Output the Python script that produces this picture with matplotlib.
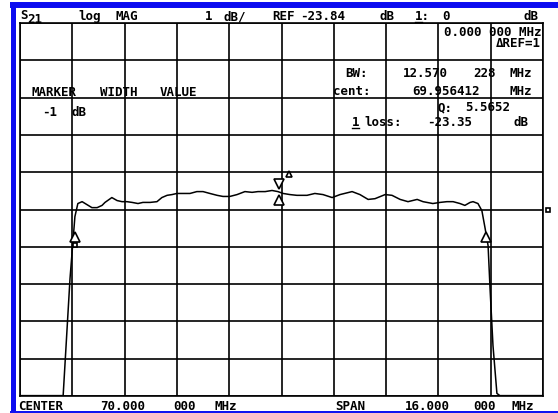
import matplotlib
matplotlib.use("Agg")
import matplotlib.pyplot as plt
from matplotlib.transforms import offset_copy
from matplotlib.lines import Line2D

W, H = 558, 414

# S21 trace
freq_mhz = [62.00, 63.32, 63.53, 63.68, 63.77, 63.90, 64.05, 64.20, 64.36, 64.51,
            64.60, 64.81, 64.97, 65.12, 65.27, 65.43, 65.61, 65.76, 65.98, 66.19,
            66.34, 66.50, 66.65, 66.80, 66.96, 67.20, 67.41, 67.60, 67.81, 68.03,
            68.21, 68.42, 68.64, 68.88, 69.10, 69.28, 69.50, 69.71, 69.89, 70.05,
            70.26, 70.47, 70.66, 70.78, 71.02, 71.27, 71.55, 71.79, 72.16, 72.40,
            72.65, 72.86, 73.17, 73.38, 73.63, 73.87, 74.15, 74.33, 74.45, 74.63,
            74.85, 75.06, 75.25, 75.46, 75.61, 75.77, 75.86, 76.01, 76.13, 76.23,
            76.32, 76.38, 76.47, 76.59, 76.68, 78.00]
s21_db = [-28.83, -28.83, -25.69, -24.03, -23.68, -23.63, -23.71, -23.79, -23.79, -23.73,
          -23.65, -23.52, -23.60, -23.63, -23.63, -23.65, -23.68, -23.65, -23.65, -23.63,
          -23.52, -23.46, -23.44, -23.41, -23.41, -23.41, -23.36, -23.36, -23.41, -23.46,
          -23.49, -23.49, -23.44, -23.36, -23.38, -23.36, -23.36, -23.33, -23.36, -23.41,
          -23.44, -23.46, -23.46, -23.46, -23.41, -23.44, -23.52, -23.44, -23.36, -23.44,
          -23.57, -23.55, -23.44, -23.46, -23.57, -23.63, -23.57, -23.63, -23.65, -23.68,
          -23.65, -23.63, -23.63, -23.68, -23.73, -23.65, -23.63, -23.68, -23.87, -24.35,
          -24.81, -25.96, -27.49, -28.77, -28.83, -28.83]

# instrument settings / marker readouts
center_mhz = 70.0
span_mhz = 16.0
ref_db = -23.84
scale_db = 1.0
bw_mhz = 12.570228
cent_mhz = 69.956412
loss_db = -23.35
width_db = -1.0

FS = 9
MONO = "DejaVu Sans Mono"
BLUE = "#0c0cf0"

fig = plt.figure(figsize=(W / 100, H / 100), dpi=100)
fig.patch.set_facecolor("white")
ax = fig.add_axes([20 / W, 1 - 397 / H, 523 / W, 373 / H])

ax.set_xlim(center_mhz - span_mhz / 2, center_mhz + span_mhz / 2)
ax.set_ylim(ref_db - 5 * scale_db, ref_db + 5 * scale_db)
ax.set_xticks([center_mhz - span_mhz / 2 + i * span_mhz / 10 for i in range(11)])
ax.set_yticks([ref_db + (i - 5) * scale_db for i in range(11)])
ax.tick_params(length=0, labelbottom=False, labelleft=False)
ax.grid(True, color="black", lw=1.2)
for sp in ax.spines.values():
    sp.set_linewidth(1.2)

ax.plot(freq_mhz, s21_db, color="black", lw=1.1, zorder=3)


def shifted(dx, dy):
    return offset_copy(ax.transData, fig=fig, x=dx, y=dy, units="dots")


# bandwidth markers at -1 dB
f_lo = cent_mhz - bw_mhz / 2
f_hi = cent_mhz + bw_mhz / 2
lvl = loss_db + width_db
mk = dict(color="black", mfc="white", mew=1.2, zorder=5, clip_on=False)
for f in (f_lo, f_hi):
    ax.plot([f], [lvl], marker="^", ms=7.5, transform=shifted(0, -8), **mk)
ax.plot([f_lo], [lvl], marker="s", ms=3.5, transform=shifted(0, -16), **mk)
# marker 1 at the centre
ax.plot([cent_mhz], [loss_db], marker="v", ms=7, transform=shifted(-1, 7), **mk)
ax.plot([cent_mhz], [loss_db], marker="^", ms=7, transform=shifted(-1, -9), **mk)
ax.plot([cent_mhz], [loss_db], marker="^", ms=4, transform=shifted(9, 17), **mk)
# reference position indicator
ax.plot([center_mhz + span_mhz / 2], [ref_db], marker="s", ms=3.5,
        transform=shifted(5, 0), **mk)


def put(x, y, s, ha="left", **kw):
    fig.text(x / W, 1 - y / H, s, fontsize=FS, family=MONO, weight="bold",
             va="baseline", ha=ha, color="black", **kw)


def underline(x0, x1, y):
    fig.add_artist(Line2D([x0 / W, x1 / W], [1 - y / H, 1 - y / H], color="black",
                          lw=1.0, transform=fig.transFigure))


# header
put(20, 19, "S")
put(27, 23, "21")
put(78, 20, "log")
put(115, 20, "MAG")
put(205, 20, "1")
put(223, 20, "dB/")
put(272, 20, "REF")
put(300, 20, "-23.84")
put(380, 20, "dB")
put(415, 20, "1:")
underline(415, 422, 22.5)
put(442, 20, "0")
put(523, 20, "dB")

# marker readouts
put(541, 47, "0.000 000 MHz\n\u0394REF=1", ha="right", multialignment="right",
    linespacing=0.8)
put(345, 77, "BW:")
put(403, 77, "12.570")
put(473, 77, "228")
put(510, 77, "MHz")
put(333, 95, "cent:")
put(412, 95, "69.956412")
put(510, 95, "MHz")
put(438, 111, "Q:")
put(465, 111, "5.5652")
put(352, 126, "1")
underline(352, 359, 128.5)
put(364, 126, "loss:")
put(427, 126, "-23.35")
put(513, 126, "dB")

put(32, 96, "MARKER")
put(100, 96, "WIDTH")
put(160, 96, "VALUE")
put(42, 116, "-1")
put(72, 116, "dB")

# footer
put(18, 410, "CENTER")
put(100, 410, "70.000")
put(173, 410, "000")
put(215, 410, "MHz")
put(335, 410, "SPAN")
put(405, 410, "16.000")
put(473, 410, "000")
put(512, 410, "MHz")

# blue screen frame
fig.add_artist(Line2D([12.5 / W, 12.5 / W], [1 - 6 / H, 1 - 412 / H], color=BLUE, lw=3.6,
                      transform=fig.transFigure, solid_capstyle="butt"))
fig.add_artist(Line2D([10 / W, 1.0], [1 - 6 / H, 1 - 6 / H], color=BLUE, lw=4.3,
                      transform=fig.transFigure, solid_capstyle="butt"))
fig.add_artist(Line2D([10 / W, 1.0], [1 - 412.5 / H, 1 - 412.5 / H], color=BLUE, lw=1.4,
                      transform=fig.transFigure, solid_capstyle="butt"))

fig.savefig("out.png", dpi=100, facecolor="white")
